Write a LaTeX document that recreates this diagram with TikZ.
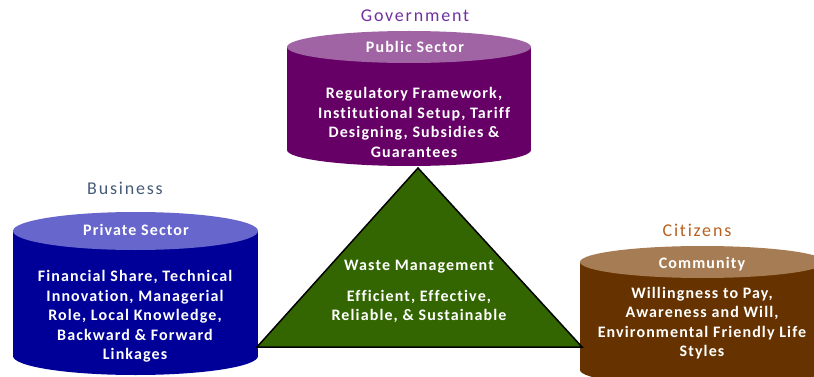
\documentclass[tikz,border=0pt]{standalone}
\usepackage{fontspec}
\newfontfamily\tfont{Carlito}[LetterSpace=10,Ligatures=CommonOff]
\newfontfamily\bfont{Carlito}[LetterSpace=7,Ligatures=CommonOff]
\definecolor{govtop}{RGB}{160,100,164}
\definecolor{govbody}{RGB}{102,0,102}
\definecolor{govlbl}{RGB}{112,48,160}
\definecolor{bustop}{RGB}{102,102,204}
\definecolor{busbody}{RGB}{0,0,153}
\definecolor{buslbl}{RGB}{70,90,120}
\definecolor{cittop}{RGB}{166,124,84}
\definecolor{citbody}{RGB}{102,51,0}
\definecolor{citlbl}{RGB}{184,96,32}
\definecolor{trigreen}{RGB}{51,102,0}
\newcommand\mycyl[7]{% left, right, ytop, ybot, ry, topcolor, bodycolor
  \fill[#7] (#1,#3) rectangle (#2,#4);
  \fill[#7] ({(#1+#2)/2},#4) ellipse[x radius={(#2-#1)/2}, y radius=#5];
  \fill[#6] ({(#1+#2)/2},#3) ellipse[x radius={(#2-#1)/2}, y radius=#5];
}
\begin{document}
\begin{tikzpicture}[x=1pt,y=-1pt,
  lbl/.style={font=\tfont\fontsize{18}{20}\selectfont, inner sep=0pt},
  hd/.style={text=white, inner sep=0pt, font=\bfont\bfseries\fontsize{16}{19.5}\selectfont},
  bd/.style={text=white, align=center, inner sep=0pt, font=\bfont\bfseries\fontsize{16}{19.5}\selectfont},
  tri/.style={fill=trigreen, draw=black, line width=1.5pt, line join=miter}]
\useasboundingbox (0,0) rectangle (814,377);
% Government
\mycyl{287}{531}{47}{150}{16}{govtop}{govbody}
% Business
\mycyl{13}{258}{231}{356}{19}{bustop}{busbody}
% Citizens
\mycyl{580}{825}{262}{370}{16}{cittop}{citbody}
% triangle
\coordinate (apex) at (418,168);
\coordinate (bl) at (257,347);
\coordinate (br) at (582,347);
\draw[tri] (apex) -- (bl) -- (br) -- cycle;
% labels
\node[lbl, text=govlbl] (gov) at (415,16) {Government};
\node[hd] (pub) at (415,47) {Public Sector};
\node[bd] (pubtxt) at (414,122.5) {Regulatory Framework,\\Institutional Setup, Tariff\\Designing, Subsidies \&\\Guarantees};
\node[lbl, text=buslbl] (bus) at (125,188) {Business};
\node[hd] (priv) at (136,229.5) {Private Sector};
\node[bd] (privtxt) at (135,316.5) {Financial Share, Technical\\Innovation, Managerial\\Role, Local Knowledge,\\Backward \& Forward\\Linkages};
\node[lbl, text=citlbl] (cit) at (697,230) {Citizens};
\node[hd] (com) at (702,264) {Community};
\node[bd] (comtxt) at (702,323) {Willingness to Pay,\\Awareness and Will,\\Environmental Friendly Life\\Styles};
\node[hd] (wm) at (419,267) {Waste Management};
\node[bd] (wmtxt) at (419,306.5) {Efficient, Effective,\\Reliable, \& Sustainable};
\end{tikzpicture}
\end{document}
